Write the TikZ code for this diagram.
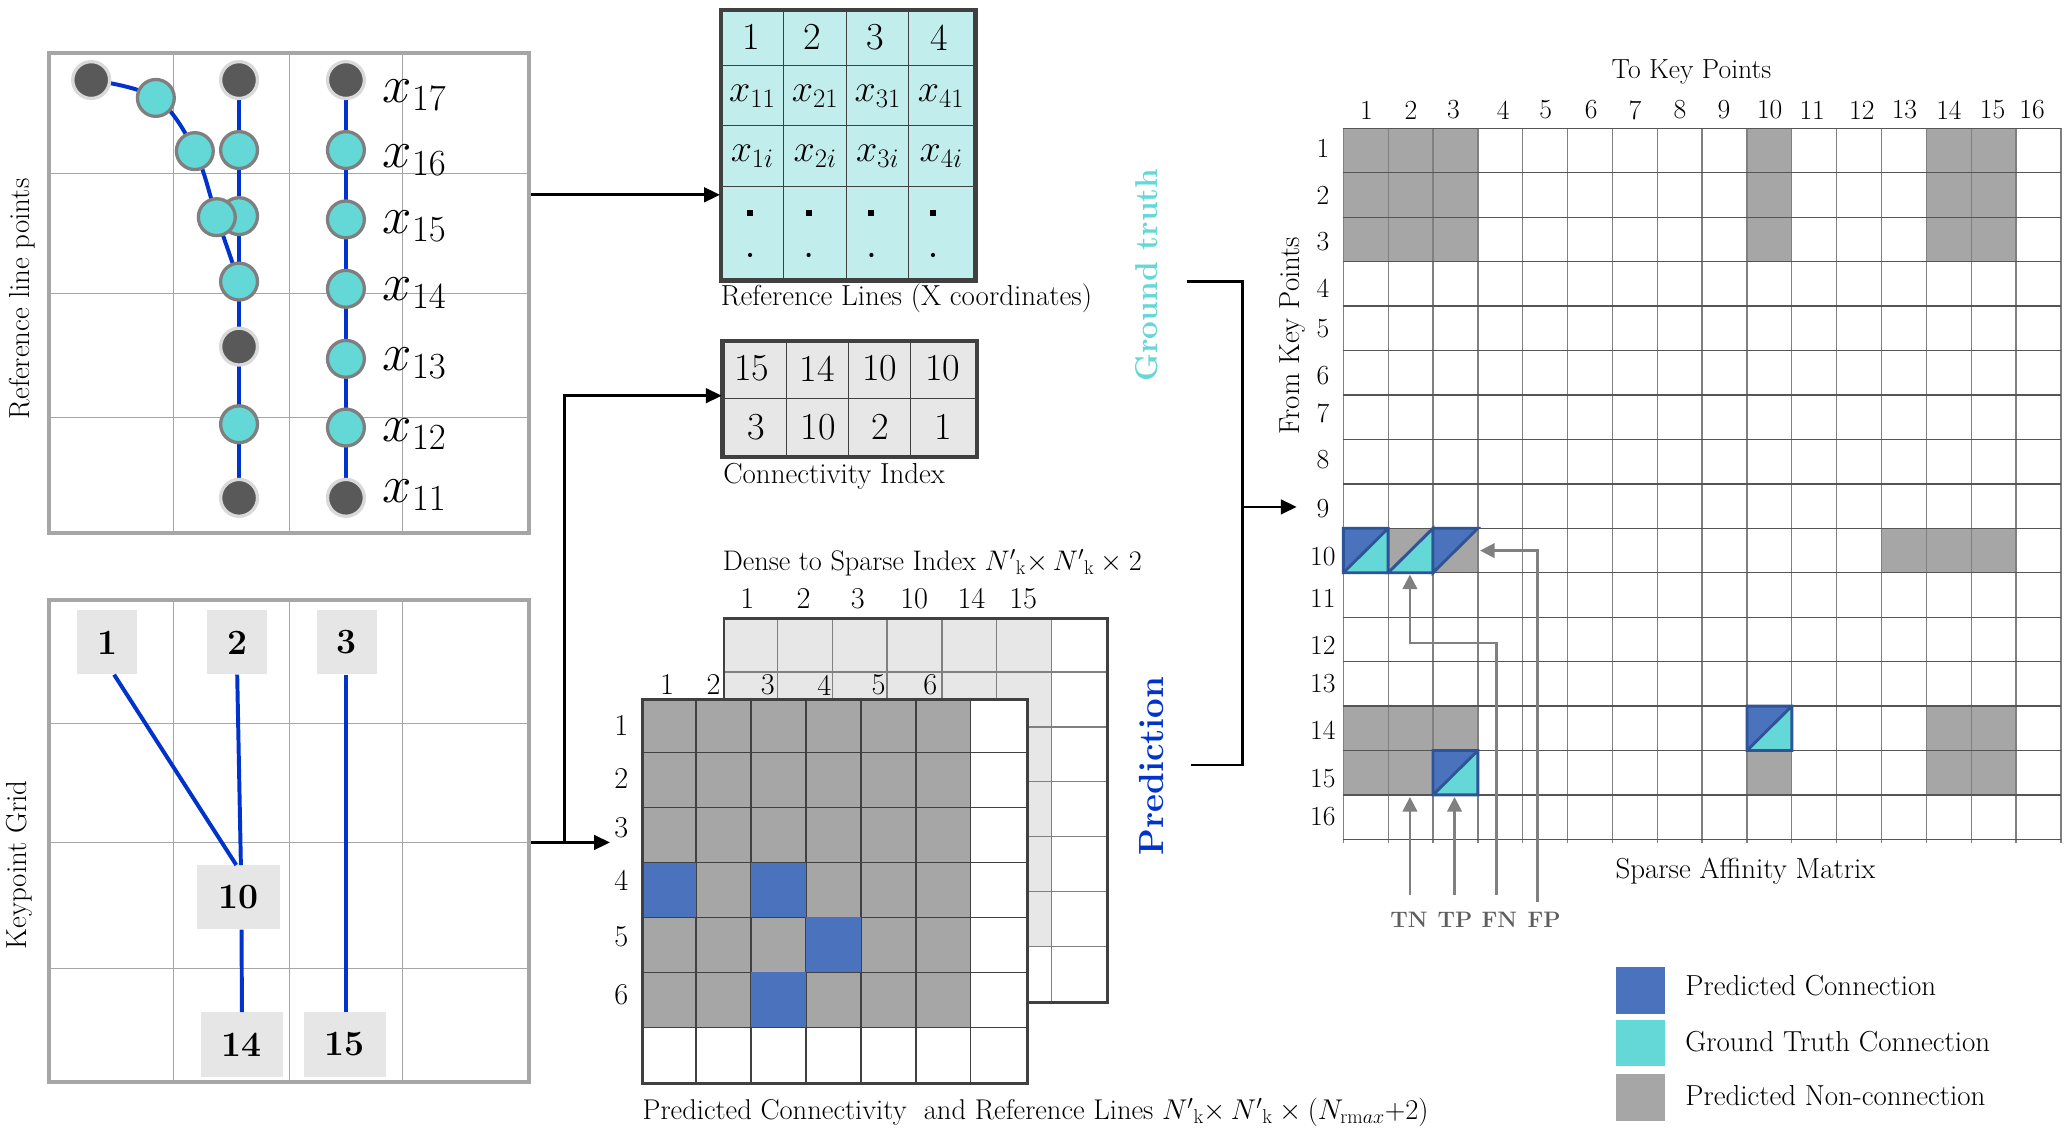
\RequirePackage{fix-cm}
\documentclass[tikz,border=0pt]{standalone}
\usepackage{fontspec}
\usetikzlibrary{arrows.meta}
\definecolor{gcyan}{HTML}{64D8D6}
\definecolor{pblue}{HTML}{4B72BD}
\definecolor{ngray}{HTML}{A6A6A6}
\definecolor{ddotc}{HTML}{595959}
\definecolor{dring}{HTML}{D9D9D9}
\definecolor{cring}{HTML}{7F7F7F}
\definecolor{lblue}{HTML}{0033CC}
\definecolor{rlcyan}{HTML}{C2EDED}
\definecolor{cigray}{HTML}{E7E7E7}
\definecolor{kgray}{HTML}{E6E6E6}
\definecolor{tdark}{HTML}{404040}
\definecolor{tribd}{HTML}{2F5496}
\definecolor{lblgray}{HTML}{5E5E5E}
\definecolor{arrgray}{HTML}{808080}
\definecolor{hgrid}{HTML}{555555}
\newcommand\fcap{\fontsize{22}{26}\selectfont}
\newcommand\fnum{\fontsize{29}{33}\selectfont}
\newcommand\fxl{\fontsize{40}{44}\selectfont}
\newcommand\fkb{\fontsize{27}{30}\selectfont\bfseries}
\newcommand\fgt{\fontsize{24}{28}\selectfont\bfseries}
\newcommand\fpr{\fontsize{26.5}{30}\selectfont\bfseries}
\newcommand\fmid{\fontsize{23}{27}\selectfont}
\newcommand\flab{\fontsize{21}{25}\selectfont}
\newcommand\fgl{\fontsize{17}{20}\selectfont\bfseries}
\def\smx{1020.5}\def\smy{97.5}\def\smw{34.07}\def\smh{33.76}
\newcommand\sgcell[3]{\fill[#3] ({\smx+(#2-1)*\smw},{\smy+(#1-1)*\smh}) rectangle ++(\smw,\smh);}
\newcommand\cellxy[2]{\pgfmathsetmacro\xa{\smx+(#2-1)*\smw}\pgfmathsetmacro\xb{\xa+\smw}\pgfmathsetmacro\ya{\smy+(#1-1)*\smh}\pgfmathsetmacro\yb{\ya+\smh}}
\newcommand\splitc[2]{\cellxy{#1}{#2}\fill[pblue] (\xa,\ya) -- (\xb,\ya) -- (\xa,\yb) -- cycle;\fill[gcyan] (\xb,\ya) -- (\xb,\yb) -- (\xa,\yb) -- cycle;\draw[tri] (\xa,\ya) rectangle (\xb,\yb) (\xa,\yb) -- (\xb,\ya);}
\begin{document}
\begin{tikzpicture}[x=1pt,y=-1pt,
  txt/.style={inner sep=0pt},
  pbox/.style={draw=ngray, line width=3pt, inner sep=0pt},
  gridl/.style={draw=ngray, line width=0.8pt},
  bline/.style={draw=lblue, line width=3pt},
  ddot/.style={circle, fill=ddotc, draw=dring, line width=2.5pt, minimum size=28pt, inner sep=0pt},
  cdot/.style={circle, fill=gcyan, draw=cring, line width=2.5pt, minimum size=28pt, inner sep=0pt},
  kbox/.style={fill=kgray, inner sep=0pt, minimum height=48.7pt, font=\fkb},
  tline/.style={draw=tdark, line width=1pt},
  tborder/.style={draw=tdark, line width=2.2pt, inner sep=0pt, anchor=north west},
  bgridl/.style={draw=arrgray, line width=1pt},
  vgrid/.style={draw=arrgray, line width=1pt},
  hgridl/.style={draw=hgrid, line width=1pt},
  tri/.style={draw=tribd, line width=2.2pt, line join=miter},
  arr/.style={draw=black, line width=2pt, -{Triangle[length=12pt,width=11pt]}},
  blk/.style={draw=black, line width=2pt},
  garr/.style={draw=arrgray, line width=1.8pt, -{Triangle[length=11pt,width=11pt]}},
  glbl/.style={inner sep=0pt, text=lblgray, font=\fgl}
]
\useasboundingbox (0,0) rectangle (1568,866);
\fill[white] (0,0) rectangle (1568,866);

% ---------------- Panel 1: reference line points
\foreach \x in {132,220,306} \draw[gridl] (\x,40) -- (\x,405);
\foreach \y in {132,223,317} \draw[gridl] (37,\y) -- (402,\y);
\node[pbox, minimum width=365pt, minimum height=365pt] (p1) at (219.5,222.5) {};
\node[txt, font=\fcap, rotate=90] (lab1) at (17,227) {Reference line points};

\coordinate (k17) at (69.3,60.8);
\coordinate (c17) at (118.4,74.4);
\coordinate (c16) at (148,114.8);
\coordinate (c15) at (164.7,165);
\coordinate (m17) at (181.6,60.8);
\coordinate (m16) at (181.6,114);
\coordinate (m15) at (181.6,164.2);
\coordinate (m14) at (181.6,213.9);
\coordinate (m13) at (181.6,263.3);
\coordinate (m12) at (181.6,322.3);
\coordinate (m11) at (181.6,378.2);
\coordinate (r17) at (262.8,60.8);
\coordinate (r16) at (262.8,114);
\coordinate (r15) at (262.8,166.7);
\coordinate (r14) at (262.8,219.4);
\coordinate (r13) at (262.8,272.6);
\coordinate (r12) at (262.8,324.8);
\coordinate (r11) at (262.8,378.2);

\draw[bline] (m17) -- (m11);
\draw[bline] (r17) -- (r11);
\draw[bline] plot[smooth, tension=0.6] coordinates {(k17) (c17) (c16) (c15) (m14)};

\node[ddot] (dk17) at (k17) {};
\node[cdot] (dc17) at (c17) {};
\node[cdot] (dc16) at (c16) {};
\node[ddot] (dm17) at (m17) {};
\node[cdot] (dm16) at (m16) {};
\node[cdot] (dm15) at (m15) {};
\node[cdot] (dc15) at (c15) {};
\node[cdot] (dm14) at (m14) {};
\node[ddot] (dm13) at (m13) {};
\node[cdot] (dm12) at (m12) {};
\node[ddot] (dm11) at (m11) {};
\node[ddot] (dr17) at (r17) {};
\node[cdot] (dr16) at (r16) {};
\node[cdot] (dr15) at (r15) {};
\node[cdot] (dr14) at (r14) {};
\node[cdot] (dr13) at (r13) {};
\node[cdot] (dr12) at (r12) {};
\node[ddot] (dr11) at (r11) {};

\node[txt, font=\fxl] (lx17) at (315,72.6) {$x_{17}$};
\node[txt, font=\fxl] (lx16) at (315,121.5) {$x_{16}$};
\node[txt, font=\fxl] (lx15) at (315,171.7) {$x_{15}$};
\node[txt, font=\fxl] (lx14) at (315,223) {$x_{14}$};
\node[txt, font=\fxl] (lx13) at (315,275.8) {$x_{13}$};
\node[txt, font=\fxl] (lx12) at (315,329.8) {$x_{12}$};
\node[txt, font=\fxl] (lx11) at (315,376.2) {$x_{11}$};

% ---------------- Panel 2: keypoint grid
\foreach \x in {132,220,306} \draw[gridl] (\x,456) -- (\x,822);
\foreach \y in {549.4,640.3,735.4} \draw[gridl] (37,\y) -- (402,\y);
\node[pbox, minimum width=365pt, minimum height=366pt] (p2) at (219.5,639) {};
\node[txt, font=\fcap, rotate=90] (lab2) at (15,657) {Keypoint Grid};

\node[kbox, minimum width=45.7pt] (kb1) at (81.4,488) {1};
\node[kbox, minimum width=45.7pt] (kb2) at (180.2,488) {2};
\node[kbox, minimum width=45.7pt] (kb3) at (263.5,488) {3};
\node[kbox, minimum width=62.9pt] (kb10) at (181,681.7) {10};
\node[kbox, minimum width=62.4pt] (kb14) at (183.8,793.5) {14};
\node[kbox, minimum width=62.4pt] (kb15) at (262,793.5) {15};
\draw[bline] ([xshift=5.3pt]kb1.south) -- ([xshift=-1.5pt]kb10.north);
\draw[bline] (kb2.south) -- ([xshift=2pt]kb10.north);
\draw[bline] ([xshift=-0.7pt]kb3.south) -- ([xshift=0.8pt]kb15.north);
\draw[bline] ([xshift=2.5pt]kb10.south) -- (kb14.north);

% ---------------- Reference lines table
\node[tborder, fill=rlcyan, minimum width=192.4pt, minimum height=204.3pt] (rl) at (547,7.1) {};
\foreach \x in {595.1,643.2,690.3} \draw[tline] (\x,7.1) -- (\x,211.4);
\foreach \y in {49.6,95.5,141.8} \draw[tline] (547,\y) -- (739.4,\y);
\draw[draw=tdark, line width=2.2pt] (rl.north west) rectangle (rl.south east);
\node[txt, font=\fnum] (rl1) at (570.5,28.4) {1};
\node[txt, font=\fnum] (rl2) at (617,28.4) {2};
\node[txt, font=\fnum] (rl3) at (665,28.4) {3};
\node[txt, font=\fnum] (rl4) at (713.8,28.4) {4};
\node[txt, font=\fnum] (rlx11) at (571.5,73.4) {$x_{11}$};
\node[txt, font=\fnum] (rlx21) at (619.2,73.4) {$x_{21}$};
\node[txt, font=\fnum] (rlx31) at (666.8,73.4) {$x_{31}$};
\node[txt, font=\fnum] (rlx41) at (714.9,73.4) {$x_{41}$};
\node[txt, font=\fnum] (rlx1i) at (571.5,119) {$x_{1i}$};
\node[txt, font=\fnum] (rlx2i) at (619.2,119) {$x_{2i}$};
\node[txt, font=\fnum] (rlx3i) at (666.8,119) {$x_{3i}$};
\node[txt, font=\fnum] (rlx4i) at (714.9,119) {$x_{4i}$};
\foreach \x in {569.8,614.3,662,708.8} {
  \fill[black] (\x-2.3,159.8) rectangle (\x+2.3,164.4);
  \fill[black] (\x,193.7) circle (1.6pt);
}
\node[txt, font=\fcap, anchor=west] (rlcap) at (547.5,226.6) {Reference Lines (X coordinates)};

% ---------------- Connectivity index
\node[tborder, fill=cigray, minimum width=192.4pt, minimum height=87.4pt] (ci) at (548.3,258.3) {};
\foreach \x in {597.6,644.5,691.8} \draw[tline] (\x,258.3) -- (\x,345.7);
\draw[tline] (548.3,302.6) -- (740.7,302.6);
\draw[draw=tdark, line width=2.2pt] (ci.north west) rectangle (ci.south east);
\node[txt, font=\fnum] (ci1) at (571,280) {15};
\node[txt, font=\fnum] (ci2) at (621,280) {14};
\node[txt, font=\fnum] (ci3) at (668.2,280) {10};
\node[txt, font=\fnum] (ci4) at (716.3,280) {10};
\node[txt, font=\fnum] (ci5) at (574.4,324.2) {3};
\node[txt, font=\fnum] (ci6) at (621.7,324.2) {10};
\node[txt, font=\fnum] (ci7) at (668.5,324.2) {2};
\node[txt, font=\fnum] (ci8) at (716.6,324.2) {1};
\node[txt, font=\fcap, anchor=west] (cicap) at (549.3,362.1) {Connectivity Index};

% ---------------- Dense to sparse index (back matrix)
\def\bx{548.9}\def\by{468.9}\def\bc{41.66}
\fill[white] (\bx,\by) rectangle ++(7*\bc,7*\bc);
\fill[cigray] (\bx,\by) rectangle ++(6*\bc,6*\bc);
\foreach \i in {1,...,6} {
  \draw[bgridl] ({\bx+\i*\bc},\by) -- ++(0,7*\bc);
  \draw[bgridl] (\bx,{\by+\i*\bc}) -- ++(7*\bc,0);
}
\node[tborder, minimum width=291.6pt, minimum height=291.6pt] (dm) at (\bx,\by) {};
\node[txt, font=\fontsize{21.5}{25}\selectfont, anchor=west] (dmcap) at (548.9,427.3) {Dense to Sparse Index $N'{}_{\mathrm{k}}{\times}\,N'{}_{\mathrm{k}}\times 2$};
\foreach \t/\x in {1/567.8,2/610.4,3/651.7,10/694.5,14/738,15/777.3}
  \node[txt, font=\fmid] (dc\t) at (\x,454.9) {\t};

% ---------------- Predicted connectivity (front matrix)
\def\fx{487}\def\fy{530}\def\fc{41.75}
\fill[white] (\fx,\fy) rectangle ++(7*\fc,7*\fc);
\fill[ngray] (\fx,\fy) rectangle ++(6*\fc,6*\fc);
\foreach \i in {1,...,6} {
  \draw[tline] ({\fx+\i*\fc},\fy) -- ++(0,7*\fc);
  \draw[tline] (\fx,{\fy+\i*\fc}) -- ++(7*\fc,0);
}
\foreach \r/\c in {4/1,4/3,5/4,6/3}
  \fill[pblue] ({\fx+(\c-1)*\fc},{\fy+(\r-1)*\fc}) rectangle ++(\fc,\fc);
\node[tborder, minimum width=292.25pt, minimum height=292.25pt] (fm) at (\fx,\fy) {};
\foreach \t/\x in {1/506.8,2/542.1,3/583.3,4/626.2,5/667.4,6/706.8}
  \node[txt, font=\fmid] (fc\t) at (\x,520.3) {\t};
\foreach \t/\y in {1/550.9,2/591.6,3/628.8,4/668.6,5/711.3,6/755.8}
  \node[txt, font=\fmid] (fr\t) at (472.1,\y) {\t};
\node[txt, font=\fontsize{21.7}{25}\selectfont, anchor=west] (fmcap) at (488,845) {Predicted Connectivity\ \ and Reference Lines $N'{}_{\mathrm{k}}{\times}\,N'{}_{\mathrm{k}}\times (N_{\mathrm{rm}ax}{+}2)$};

% ---------------- arrows from panels
\coordinate (fmin) at (463.4,640);
\coordinate (brl) at (428.7,640);
\draw[arr] (p1.east |- 0,148) -- (rl.west |- 0,148);
\draw[arr] (p2.east |- fmin) -- (fmin);
\draw[arr] (brl) |- (ci.west |- 0,300.6);

% ---------------- Ground truth / prediction bracket
\node[txt, font=\fgt, text=gcyan, rotate=90] (gt) at (871.1,209) {Ground truth};
\node[txt, font=\fpr, text=lblue, rotate=90] (pr) at (875,582) {Prediction};
\coordinate (gtR) at (902,214);
\coordinate (prR) at (904.5,581.1);
\coordinate (brk) at (944.1,385.1);
\coordinate (smIn) at (985.1,385.1);
\draw[blk] (gtR) -| (brk) |- (prR);
\draw[arr] (brk) -- (smIn);

% ---------------- Sparse affinity matrix
\foreach \r in {1,2,3} \foreach \c in {1,2,3,10,14,15} {\sgcell{\r}{\c}{ngray}}
\foreach \c in {2,3,13,14,15} {\sgcell{10}{\c}{ngray}}
\foreach \c in {1,2,3,14,15} {\sgcell{14}{\c}{ngray}}
\foreach \c in {1,2,10,14,15} {\sgcell{15}{\c}{ngray}}
\foreach \i in {0,...,16} {
  \draw[vgrid] ({\smx+\i*\smw},\smy) -- ({\smx+\i*\smw},{\smy+16*\smh+3});
}
\foreach \i in {0,...,16} {
  \draw[hgridl] (\smx,{\smy+\i*\smh}) -- ({\smx+16*\smw},{\smy+\i*\smh});
}
\splitc{10}{1}
\splitc{14}{10}
\splitc{15}{3}
\cellxy{10}{2}
\fill[gcyan] (\xb,\ya) -- (\xb,\yb) -- (\xa,\yb) -- cycle;
\draw[tri] (\xb,\ya) -- (\xb,\yb) -- (\xa,\yb) -- cycle;
\cellxy{10}{3}
\fill[pblue] (\xa,\ya) -- (\xb,\ya) -- (\xa,\yb) -- cycle;
\draw[tri] (\xa,\ya) -- (\xb,\ya) -- (\xa,\yb) -- cycle;

\node[txt, font=\flab] (tkp) at (1285,54.5) {To Key Points};
\node[txt, font=\fcap, rotate=90] (fkp) at (982.3,255) {From Key Points};
\node[txt, font=\fcap] (sam) at (1326,662) {Sparse Affinity Matrix};
\foreach \t/\x in {1/1038,2/1071.9,3/1104.2,4/1141.9,5/1174.2,6/1208.9,7/1242,8/1276.2,9/1309.7,10/1344.4,11/1376.7,12/1414.4,13/1446.8,14/1480.6,15/1513.7,16/1543.7}
  \node[txt, font=\flab] (sc\t) at (\x,83.6) {\t};
\foreach \t/\y in {1/112.7,2/148.1,3/183.6,4/219,5/249.4,6/285.6,7/314,8/349.4,9/386.2,10/422.9,11/454.5,12/490,13/519,14/554.5,15/591.2,16/620.3}
  \node[txt, font=\flab] (sr\t) at (1005,\y) {\t};

% ---------------- TN TP FN FP
\node[glbl] (tn) at (1070.4,699) {TN};
\node[glbl] (tp) at (1105.4,699) {TP};
\node[glbl] (fn) at (1139,699) {FN};
\node[glbl] (fp) at (1173,699) {FP};
\coordinate (tnS) at (1071.1,679.8);
\coordinate (tnE) at (1071.1,605.5);
\coordinate (tpS) at (1105,679.8);
\coordinate (tpE) at (1105,605.5);
\coordinate (fnS) at (1136.9,679.8);
\coordinate (fnM) at (1071.1,488.7);
\coordinate (fnE) at (1071.1,436.5);
\coordinate (fpS) at (1168,684.9);
\coordinate (fpE) at (1124.4,418.3);
\draw[garr] (tnS) -- (tnE);
\draw[garr] (tpS) -- (tpE);
\draw[garr] (fnS) |- (fnM) -- (fnE);
\draw[garr] (fpS) |- (fpE);

% ---------------- Legend
\fill[pblue] (1227.7,734.4) rectangle (1264.9,770.3);
\fill[gcyan] (1227.7,774.9) rectangle (1264.9,809.8);
\fill[ngray] (1227.7,815.9) rectangle (1264.9,851.6);
\node[txt, font=\fcap, anchor=west] (lg1) at (1280.1,749) {Predicted Connection};
\node[txt, font=\fcap, anchor=west] (lg2) at (1280.1,791.4) {Ground Truth Connection};
\node[txt, font=\fcap, anchor=west] (lg3) at (1280.1,832) {Predicted Non-connection};
\end{tikzpicture}
\end{document}
